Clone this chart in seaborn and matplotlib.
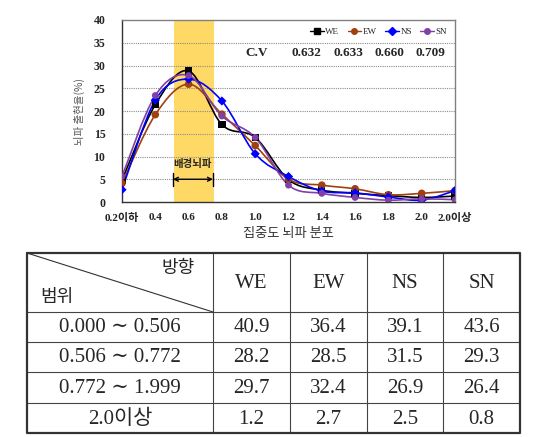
import numpy as np
import pandas as pd
import matplotlib
matplotlib.use("Agg")
import matplotlib.pyplot as plt
import seaborn as sns
from matplotlib.path import Path
from matplotlib.patches import PathPatch
from matplotlib.lines import Line2D

sns.set_theme(style="white")
SERIF = ["Liberation Serif", "DejaVu Serif", "Noto Sans CJK KR"]
KR = ["Noto Sans CJK KR", "DejaVu Sans"]
plt.rcParams["font.family"] = SERIF

# ---------------- data ----------------
categories = ["0.2이하", "0.4", "0.6", "0.8", "1.0", "1.2", "1.4", "1.6", "1.8", "2.0", "2.0이상"]
we = [4.8, 21.4, 28.8, 17.0, 14.2, 4.9, 2.6, 1.9, 1.4, 1.0, 1.3]
ew = [4.1, 19.2, 25.9, 19.3, 12.4, 5.0, 3.7, 2.9, 1.6, 1.9, 2.5]
ns = [2.7, 22.4, 27.0, 22.2, 10.6, 5.6, 2.4, 2.0, 1.1, 0.4, 2.5]
sn = [5.6, 23.4, 27.8, 18.9, 14.2, 3.7, 1.9, 1.0, 0.4, 0.7, 0.5]
series_names = ["WE", "EW", "NS", "SN"]
cv_values = ["0.632", "0.633", "0.660", "0.709"]

table_cols = ["WE", "EW", "NS", "SN"]
table_rows = ["0.000 \u223c 0.506", "0.506 \u223c 0.772", "0.772 \u223c 1.999", "2.0이상"]
table_vals = [
    ["40.9", "36.4", "39.1", "43.6"],
    ["28.2", "28.5", "31.5", "29.3"],
    ["29.7", "32.4", "26.9", "26.4"],
    ["1.2", "2.7", "2.5", "0.8"],
]

colors = {"WE": "#000000", "EW": "#A0400F", "NS": "#0000FF", "SN": "#8040A8"}
markers = {"WE": "s", "EW": "o", "NS": "D", "SN": "o"}
msizes = {"WE": 28, "EW": 30, "NS": 22, "SN": 24}

df = pd.DataFrame({
    "x": list(range(len(categories))) * 4,
    "y": we + ew + ns + sn,
    "series": sum([[s] * len(categories) for s in series_names], []),
})

W, H = 535, 437
fig = plt.figure(figsize=(W / 100, H / 100), dpi=100)
fig.patch.set_facecolor("white")

ax = fig.add_axes([122 / W, 1 - 202 / H, 333 / W, 182 / H])

# background band
ax.axvspan(1.56, 2.76, color="#FFD966", zorder=0, lw=0)

# gridlines
for g in range(5, 40, 5):
    ax.axhline(g, color="#8c8c8c", lw=0.8, ls=(0, (1, 1)), zorder=1)


def smooth_path(xs, ys):
    pts = np.column_stack([xs, ys]).astype(float)
    n = len(pts)
    verts = [pts[0]]
    codes = [Path.MOVETO]
    for i in range(n - 1):
        p0 = pts[i - 1] if i > 0 else pts[i]
        p1 = pts[i]
        p2 = pts[i + 1]
        p3 = pts[i + 2] if i + 2 < n else pts[i + 1]
        c1 = p1 + (p2 - p0) / 6.0
        c2 = p2 - (p3 - p1) / 6.0
        verts += [c1, c2, p2]
        codes += [Path.CURVE4] * 3
    return Path(verts, codes)


for s in series_names:
    sub = df[df.series == s]
    patch = PathPatch(smooth_path(sub.x.values, sub.y.values), facecolor="none",
                      edgecolor=colors[s], lw=1.2, zorder=3)
    ax.add_patch(patch)

sns.scatterplot(data=df, x="x", y="y", hue="series", style="series",
                palette=colors, markers=markers, size="series", sizes=msizes,
                edgecolor="none", legend=False, zorder=4, ax=ax)

ax.set_xlim(0, 10)
ax.set_ylim(0, 40)
ax.set_xticks(range(len(categories)))
ax.set_xticklabels(categories, fontsize=8, fontweight="bold", family=SERIF)
ax.set_yticks(range(0, 41, 5))
ax.set_yticklabels([str(v) for v in range(0, 41, 5)], fontsize=8.5,
                   fontweight="bold", family=SERIF)
ax.tick_params(axis="y", length=0, pad=12)
ax.tick_params(axis="x", length=3, direction="in", pad=8, width=0.8, colors="#222222")
ax.set_xlabel("집중도 뇌파 분포", fontsize=9.5, family=KR, color="#333333", labelpad=3)
ax.set_ylabel("뇌파 출현율(%)", fontsize=7.5, family=KR, color="#555555", labelpad=6)

for side in ["left", "bottom"]:
    ax.spines[side].set_color("#333333")
    ax.spines[side].set_linewidth(1.0)
for side in ["top", "right"]:
    ax.spines[side].set_color("#808080")
    ax.spines[side].set_linewidth(1.0)

# 배경뇌파 arrow
ax.annotate("", xy=(1.53, 5.0), xytext=(2.73, 5.0),
            arrowprops=dict(arrowstyle="<->", color="black", lw=1.0,
                            shrinkA=0, shrinkB=0, mutation_scale=7))
ax.plot([1.53, 1.53], [3.5, 6.3], color="black", lw=1.0, zorder=5)
ax.plot([2.73, 2.73], [3.5, 6.3], color="black", lw=1.0, zorder=5)
ax.text(2.12, 8.4, "배경뇌파", ha="center", va="center", fontsize=7.5,
        fontweight="bold", family=KR, zorder=6)

# legend
handles = [Line2D([0], [0], color=colors[s], marker=markers[s], markersize=4,
                  lw=1.0) for s in series_names]
leg = ax.legend(handles, series_names, loc="upper right", ncol=4, frameon=False,
                handlelength=1.5, handletextpad=0.2,
                columnspacing=0.9, bbox_to_anchor=(1.0, 1.0),
                prop={"family": SERIF, "size": 6.5})

# C.V row
ax.text(4.05, 32.7, "C.V", ha="center", va="center", fontsize=9.5,
        fontweight="bold", family=SERIF)
for i, v in enumerate(cv_values):
    ax.text(5.55 + i * 1.24, 32.7, v, ha="center", va="center", fontsize=9.5,
            fontweight="bold", family=SERIF)

# ---------------- table ----------------
tax = fig.add_axes([0, 0, 1, 1])
tax.set_xlim(0, W)
tax.set_ylim(H, 0)
tax.axis("off")
xs = [27, 213, 290, 367, 443, 520]
ys = [253, 312, 342, 372, 403, 433]
for x in xs[1:-1]:
    tax.plot([x, x], [ys[0], ys[-1]], color="#444444", lw=0.8)
for y in ys[1:-1]:
    tax.plot([xs[0], xs[-1]], [y, y], color="#444444", lw=0.8)
tax.plot([xs[0], xs[-1], xs[-1], xs[0], xs[0]],
         [ys[0], ys[0], ys[-1], ys[-1], ys[0]], color="#333333", lw=1.6)
tax.plot([xs[0], xs[1]], [ys[0], ys[1]], color="#333333", lw=0.8)
tax.text(178, 268, "방향", ha="center", va="center", fontsize=13, family=KR,
         fontweight="light")
tax.text(57, 297, "범위", ha="center", va="center", fontsize=13, family=KR,
         fontweight="light")
for j, c in enumerate(table_cols):
    tax.text((xs[j + 1] + xs[j + 2]) / 2, (ys[0] + ys[1]) / 2 + 1, c,
             ha="center", va="center", fontsize=15, family=SERIF)
for i, r in enumerate(table_rows):
    cy = (ys[i + 1] + ys[i + 2]) / 2 + 1
    tax.text((xs[0] + xs[1]) / 2, cy, r, ha="center", va="center", fontsize=15,
             family=SERIF)
    for j, v in enumerate(table_vals[i]):
        tax.text((xs[j + 1] + xs[j + 2]) / 2, cy, v, ha="center", va="center",
                 fontsize=15, family=SERIF)

fig.savefig("out.png", dpi=100, facecolor="white")
